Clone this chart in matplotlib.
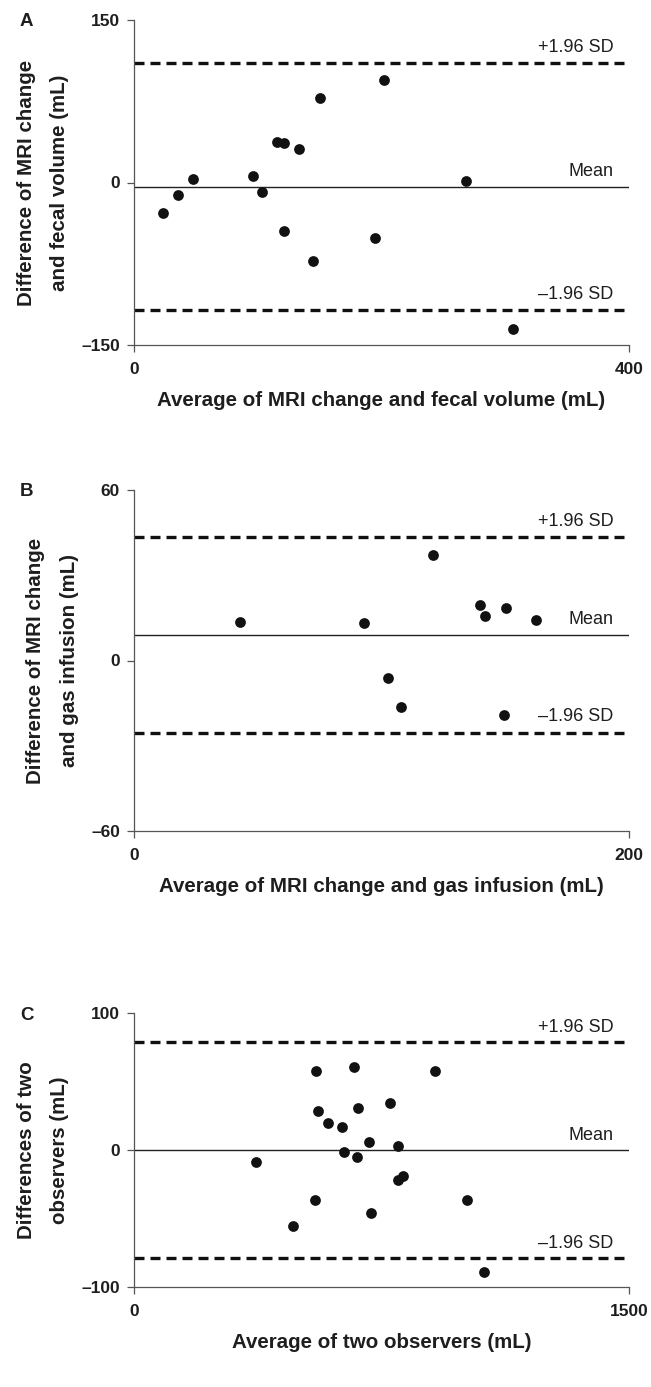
import matplotlib.pyplot as plt

plt.rcParams['font.family'] = ['Liberation Sans', 'DejaVu Sans']

# panel A: MRI change vs fecal volume
a_avg = [23.7, 35.8, 47.8, 96.0, 103.7, 115.7, 121.4, 133.4, 121.4, 150.2, 144.5, 194.6, 201.7, 268.2, 306.4]
a_diff = [-27.9, -11.9, 3.2, 5.9, -8.9, 37.3, 36.1, 31.3, -44.6, 77.8, -72.7, -50.9, 94.7, 1.1, -135.2]
a_lines = [110, -4, -118]   # +1.96 SD, mean, -1.96 SD

# panel B: MRI change vs gas infusion
b_avg = [43.0, 93.1, 120.9, 102.7, 108.0, 139.8, 142.0, 150.3, 149.3, 162.4]
b_diff = [13.5, 13.1, 37.1, -6.0, -16.5, 19.7, 15.5, 18.4, -19.3, 14.3]
b_lines = [43.4, 8.9, -25.5]

# panel C: two observers
c_avg = [551.9, 666.0, 911.8, 775.0, 556.9, 678.5, 588.2, 630.9, 712.4, 800.2,
         637.1, 674.8, 370.0, 814.0, 800.2, 549.4, 1009.7, 717.4, 481.6, 1059.8]
c_diff = [58.0, 60.4, 58.0, 34.2, 28.2, 31.0, 19.5, 16.5, 6.2, 2.9,
          -1.1, -4.9, -8.4, -18.7, -21.9, -36.2, -36.6, -45.7, -55.6, -88.7]
c_lines = [79, 0, -79]

panels = [
    dict(letter='A', x=a_avg, y=a_diff, lines=a_lines, xmax=400, ymax=150,
         xlabel='Average of MRI change and fecal volume (mL)',
         ylabel='Difference of MRI change\nand fecal volume (mL)',
         box=[134, 20, 629, 345]),
    dict(letter='B', x=b_avg, y=b_diff, lines=b_lines, xmax=200, ymax=60,
         xlabel='Average of MRI change and gas infusion (mL)',
         ylabel='Difference of MRI change\nand gas infusion (mL)',
         box=[134, 490, 629, 831]),
    dict(letter='C', x=c_avg, y=c_diff, lines=c_lines, xmax=1500, ymax=100,
         xlabel='Average of two observers (mL)',
         ylabel='Differences of two\nobservers (mL)',
         box=[134, 1013, 629, 1287]),
]

W, H = 651, 1387
fig = plt.figure(figsize=(W / 100, H / 100), dpi=100)
txt = '#1e1e1e'

for p in panels:
    x0, y0, x1, y1 = p['box']
    ax = fig.add_axes([x0 / W, 1 - y1 / H, (x1 - x0) / W, (y1 - y0) / H])
    ax.set_xlim(0, p['xmax'])
    ax.set_ylim(-p['ymax'], p['ymax'])

    up, mean, low = p['lines']
    ax.axhline(up, color='#111111', lw=2.4, dashes=(3.0, 1.8))
    ax.axhline(low, color='#111111', lw=2.4, dashes=(3.0, 1.8))
    ax.axhline(mean, color='#222222', lw=1.0)
    ax.scatter(p['x'], p['y'], s=60, color='#111111', zorder=3, linewidths=0)

    span = 2 * p['ymax']
    xt = p['xmax'] * 0.968
    ax.text(xt, up + span * 0.022, '+1.96 SD', ha='right', va='bottom', fontsize=13, color=txt)
    ax.text(xt, mean + span * 0.022, 'Mean', ha='right', va='bottom', fontsize=13, color=txt)
    ax.text(xt, low + span * 0.022, '\u20131.96 SD', ha='right', va='bottom', fontsize=13, color=txt)

    for s in ['top', 'right']:
        ax.spines[s].set_visible(False)
    for s in ['left', 'bottom']:
        ax.spines[s].set_color('#555555')
        ax.spines[s].set_linewidth(0.9)

    ax.set_xticks([0, p['xmax']])
    ax.set_yticks([-p['ymax'], 0, p['ymax']])
    ax.set_yticklabels(['\u2013%d' % p['ymax'], '0', str(p['ymax'])])
    ax.tick_params(axis='both', direction='out', length=5, width=0.9, color='#555555',
                   labelsize=12.5, labelcolor=txt, pad=5)
    ax.tick_params(axis='x', pad=7)
    for lab in ax.get_xticklabels() + ax.get_yticklabels():
        lab.set_fontweight('bold')

    ax.set_xlabel(p['xlabel'], fontsize=14.8, fontweight='bold', color=txt, labelpad=10)
    ax.set_ylabel(p['ylabel'], fontsize=14.8, fontweight='bold', color=txt, labelpad=9,
                  linespacing=1.95)

    fig.text(20 / W, 1 - (y0 + 2) / H, p['letter'], fontsize=13.5, fontweight='bold',
             color=txt, va='center', ha='left')

fig.savefig('out.png', dpi=100)
